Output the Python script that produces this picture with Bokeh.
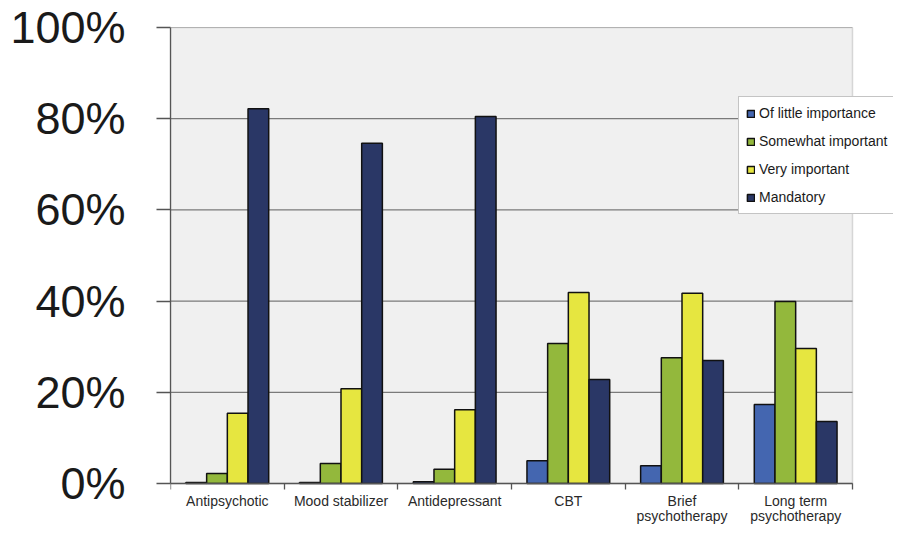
from bokeh.plotting import figure
from bokeh.models import (Range1d, FixedTicker, PrintfTickFormatter, Legend, LegendItem,
                          ColumnDataSource, BoxAnnotation)
from bokeh.embed import file_html
from bokeh.resources import INLINE

categories = ["Antipsychotic", "Mood stabilizer", "Antidepressant", "CBT",
              "Brief\npsychotherapy", "Long term\npsychotherapy"]
series_names = ["Of little importance", "Somewhat important", "Very important", "Mandatory"]
of_little_importance = [0.2, 0.2, 0.4, 5.0, 3.9, 17.3]
somewhat_important = [2.2, 4.4, 3.1, 30.7, 27.6, 39.9]
very_important = [15.4, 20.8, 16.2, 41.9, 41.7, 29.6]
mandatory = [82.2, 74.6, 80.5, 22.8, 27.0, 13.6]
y_ticks = [0, 20, 40, 60, 80, 100]

series_values = [of_little_importance, somewhat_important, very_important, mandatory]
colors = ["#4466b0", "#93b83c", "#e6e640", "#2a3766"]

n = len(categories)
bar_w = 0.182

W, H = 893, 524
# plot area: x 170..852 px, y 27 (100%) .. 483 (0%) px; frame extends to canvas edge
x_end = n * (W - 170) / (852 - 170)
y_start = -100 * (H - 483) / (483 - 27)

p = figure(width=W, height=H, output_backend="svg", toolbar_location=None,
           x_range=Range1d(0, x_end), y_range=Range1d(y_start, 100),
           min_border_left=170, min_border_top=27, min_border_right=0, min_border_bottom=0)
p.background_fill_color = "white"
p.border_fill_color = "white"
p.outline_line_color = None

area = BoxAnnotation(left=0, right=n, bottom=0, top=100, fill_color="#f0f0f0", fill_alpha=1.0,
                     line_color="#8a8a8a", line_width=1.5, level="underlay")
p.add_layout(area)

p.segment(x0=[0] * len(y_ticks), x1=[n] * len(y_ticks), y0=y_ticks, y1=y_ticks,
          line_color="#7a7a7a", line_width=1.2)

items = []
for k, (name, vals, col) in enumerate(zip(series_names, series_values, colors)):
    off = (k - 1.5) * bar_w
    src = ColumnDataSource(dict(x=[i + 0.5 + off for i in range(n)], top=vals))
    r = p.vbar(x="x", top="top", bottom=0, width=bar_w, source=src,
               fill_color=col, line_color="#111111", line_width=1.5)
    items.append(LegendItem(label=name, renderers=[r]))

# x axis, drawn at y = 0 inside the frame
xa = p.xaxis[0]
xa.fixed_location = 0
xa.bounds = (0, n)
xa.ticker = FixedTicker(ticks=[i + 0.5 for i in range(n)], minor_ticks=list(range(n + 1)))
xa.major_label_overrides = {i + 0.5: c for i, c in enumerate(categories)}
xa.major_tick_line_color = None
xa.major_tick_in = 0
xa.major_tick_out = 0
xa.minor_tick_in = 0
xa.minor_tick_out = 6
xa.minor_tick_line_color = "#555555"
xa.minor_tick_line_width = 1.3
xa.axis_line_color = "#555555"
xa.axis_line_width = 1.3
xa.major_label_standoff = 3
xa.major_label_text_font = "Liberation Sans"
xa.major_label_text_font_size = "14px"
xa.major_label_text_color = "#2a2a2a"
xa.major_label_text_line_height = 0.95

# y axis
ya = p.yaxis[0]
ya.bounds = (0, 100)
ya.ticker = FixedTicker(ticks=y_ticks)
ya.formatter = PrintfTickFormatter(format="%d%%")
ya.major_tick_in = 0
ya.major_tick_out = 14
ya.major_tick_line_color = "#555555"
ya.major_tick_line_width = 1.3
ya.minor_tick_line_color = None
ya.axis_line_color = "#555555"
ya.axis_line_width = 1.3
ya.major_label_standoff = 31
ya.major_label_text_font = "Liberation Sans"
ya.major_label_text_font_size = "45px"
ya.major_label_text_color = "#1a1a1a"

p.xgrid.grid_line_color = None
p.ygrid.grid_line_color = None

legend = Legend(items=items, location=(568, H - 214), margin=0, padding=7, spacing=10,
                glyph_width=9, glyph_height=9, label_height=18, label_standoff=4,
                label_text_font="Liberation Sans", label_text_font_size="14px",
                label_text_color="#1a1a1a", border_line_color="#8a8a8a", border_line_width=1.2,
                background_fill_color="white", background_fill_alpha=1.0)
p.add_layout(legend)

open("out.html", "w").write(file_html(p, INLINE))
